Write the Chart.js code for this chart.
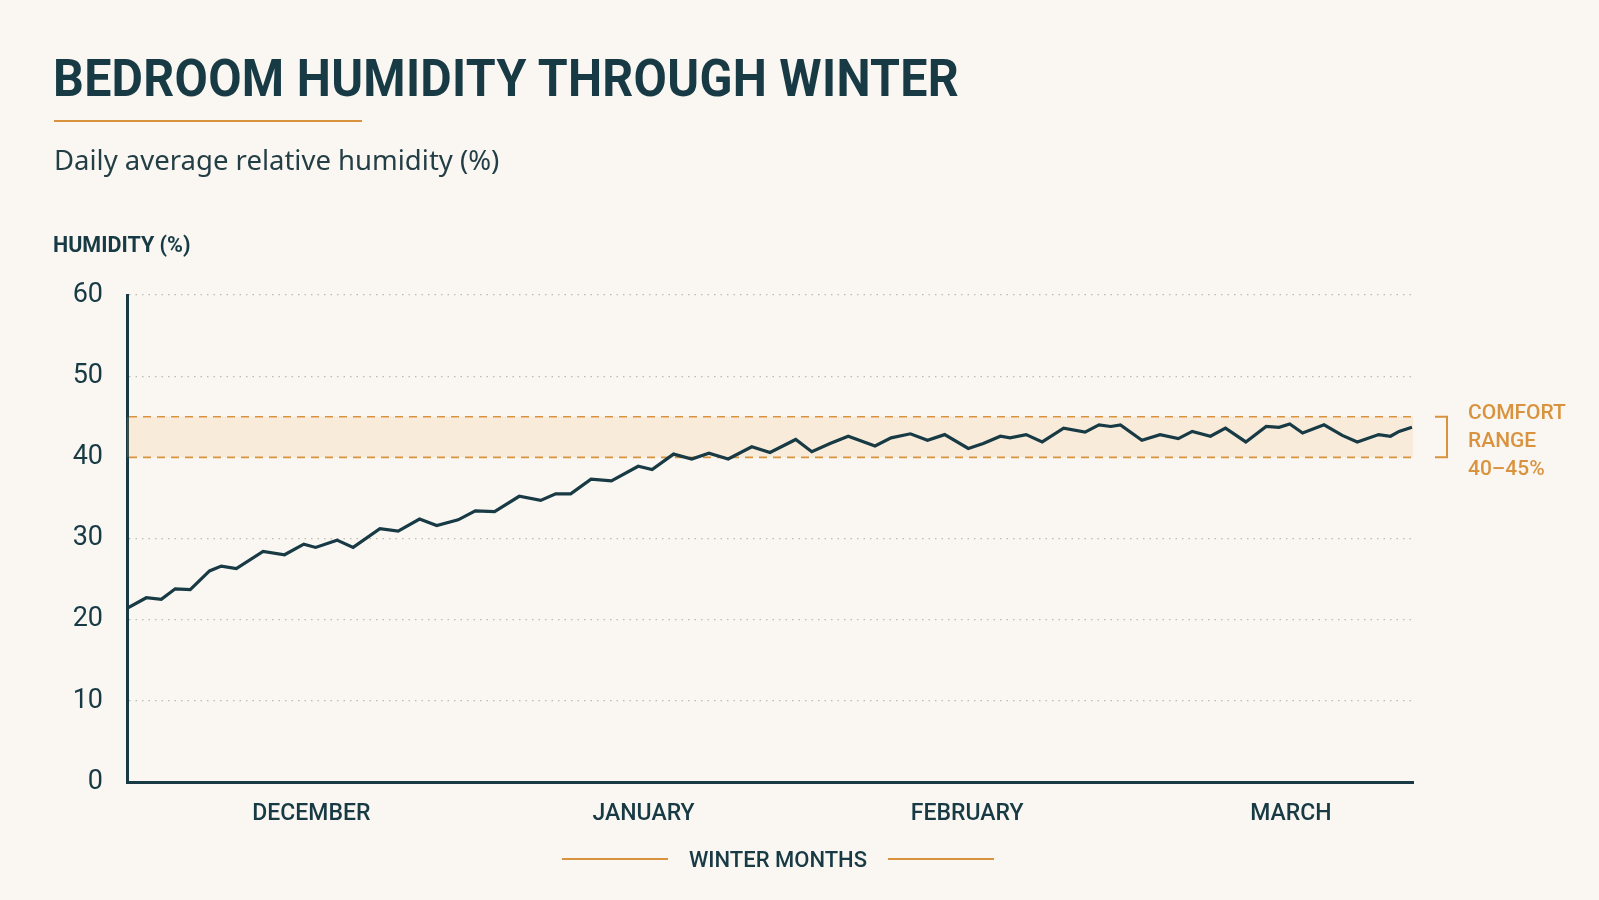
<!DOCTYPE html>
<html>
<head>
<meta charset="utf-8">
<title>Bedroom humidity through winter</title>
<script src="https://cdn.jsdelivr.net/npm/chart.js@4.4.1/dist/chart.umd.min.js"></script>
<style>
    html, body {
        margin: 0;
        padding: 0;
        width: 1599px;
        height: 900px;
        background: #faf7f2;
        overflow: hidden;
        font-family: Roboto, "Noto Sans", sans-serif;
        color: #173a44;
    }
    #title {
        position: absolute;
        left: 53px;
        top: 50px;
        font-size: 52px;
        line-height: 58px;
        font-weight: 700;
        letter-spacing: 0.3px;
        white-space: nowrap;
        transform: scaleX(0.93);
        transform-origin: left center;
    }
    #rule {
        position: absolute;
        left: 54px;
        top: 120px;
        width: 308px;
        height: 2px;
        background: #d9933f;
    }
    #subtitle {
        position: absolute;
        left: 54px;
        top: 143px;
        font-family: "Noto Sans", sans-serif;
        font-size: 27.5px;
        line-height: 34px;
        color: #243e46;
        white-space: nowrap;
    }
    #yTitle {
        position: absolute;
        left: 53px;
        top: 233px;
        font-size: 21.5px;
        line-height: 24px;
        font-weight: 700;
        white-space: nowrap;
    }
    #chartBox {
        position: absolute;
        left: 0;
        top: 0;
        width: 1599px;
        height: 900px;
    }
    #xTitle {
        position: absolute;
        left: 562px;
        width: 432px;
        top: 846px;
        height: 26px;
        display: flex;
        align-items: center;
        justify-content: space-between;
        font-size: 22px;
        font-weight: 500;
        white-space: nowrap;
    }
    #xTitle .bar {
        display: block;
        width: 106px;
        height: 2px;
        background: #d9933f;
    }
</style>
</head>
<body>
<div id="chartBox"><canvas id="humidityChart"></canvas></div>
<div id="title">BEDROOM HUMIDITY THROUGH WINTER</div>
<div id="rule"></div>
<div id="subtitle">Daily average relative humidity (%)</div>
<div id="yTitle">HUMIDITY (%)</div>
<div id="xTitle"><span class="bar"></span><span>WINTER MONTHS</span><span class="bar"></span></div>

<script>
const dayOffsets = [
    0, 1.8, 3.2, 4.5, 5.9, 7.7, 8.8, 10.2, 12.7, 14.7,
    16.5, 17.6, 19.6, 21.1, 23.6, 25.3, 27.3, 28.9, 30.9, 32.5,
    34.3, 36.6, 38.6, 40.0, 41.4, 43.3, 45.2, 47.7, 49.0, 51.0,
    52.7, 54.3, 56.1, 58.3, 60.0, 62.4, 63.9, 65.6, 67.3, 69.8,
    71.3, 73.1, 74.7, 76.3, 78.5, 79.9, 81.5, 82.4, 83.9, 85.4,
    87.4, 89.4, 90.7, 91.8, 92.7, 94.7, 96.4, 98.1, 99.4, 101.1,
    102.5, 104.4, 106.3, 107.5, 108.5, 109.7, 111.7, 113.4, 114.8, 116.8,
    117.9, 118.7, 119.9
];

// Daily average relative humidity (%)
const humidity = [
    21.4, 22.7, 22.5, 23.8, 23.7, 26.0, 26.6, 26.3, 28.4, 28.0,
    29.3, 28.9, 29.8, 28.9, 31.2, 30.9, 32.4, 31.6, 32.3, 33.4,
    33.3, 35.2, 34.7, 35.5, 35.5, 37.3, 37.1, 38.9, 38.5, 40.4,
    39.8, 40.5, 39.8, 41.3, 40.6, 42.2, 40.7, 41.7, 42.6, 41.4,
    42.4, 42.9, 42.1, 42.8, 41.1, 41.7, 42.6, 42.4, 42.8, 41.9,
    43.6, 43.1, 44.0, 43.8, 44.0, 42.1, 42.8, 42.3, 43.2, 42.6,
    43.6, 41.9, 43.8, 43.7, 44.1, 43.0, 44.0, 42.7, 41.9, 42.8,
    42.6, 43.2, 43.7
];

// Month labels and where they sit on the day axis
const monthLabels = ['DECEMBER', 'JANUARY', 'FEBRUARY', 'MARCH'];
const monthTickDays = [17.2, 48.2, 78.4, 108.6];

// Y axis ticks
const yTicks = [0, 10, 20, 30, 40, 50, 60];

// Comfort range
const comfortLow = 40;
const comfortHigh = 45;
const comfortLines = ['COMFORT', 'RANGE', '40\u201345%'];

const INK = '#173a44';
const ORANGE = '#d9933f';

// Shaded comfort band + dashed edges, drawn under the line
const comfortBandPlugin = {
    id: 'comfortBand',
    beforeDatasetsDraw(chart) {
        const { ctx, chartArea, scales: { y } } = chart;
        const top = y.getPixelForValue(comfortHigh);
        const bottom = y.getPixelForValue(comfortLow);

        ctx.save();
        ctx.fillStyle = 'rgba(236, 176, 100, 0.17)';
        ctx.fillRect(chartArea.left, top, chartArea.right - chartArea.left, bottom - top);

        ctx.strokeStyle = ORANGE;
        ctx.lineWidth = 1.6;
        ctx.setLineDash([8, 6]);
        [top, bottom].forEach(py => {
            ctx.beginPath();
            ctx.moveTo(chartArea.left + 2, py);
            ctx.lineTo(chartArea.right, py);
            ctx.stroke();
        });
        ctx.restore();
    },
    afterDraw(chart) {
        const { ctx, chartArea, scales: { y } } = chart;
        const top = y.getPixelForValue(comfortHigh);
        const bottom = y.getPixelForValue(comfortLow);
        const bx = chartArea.right + 34;

        ctx.save();
        // bracket
        ctx.strokeStyle = ORANGE;
        ctx.lineWidth = 2;
        ctx.beginPath();
        ctx.moveTo(bx - 12, top);
        ctx.lineTo(bx, top);
        ctx.lineTo(bx, bottom);
        ctx.lineTo(bx - 12, bottom);
        ctx.stroke();

        // label
        ctx.fillStyle = ORANGE;
        ctx.font = '500 21px Roboto, "Noto Sans", sans-serif';
        ctx.textAlign = 'left';
        ctx.textBaseline = 'middle';
        comfortLines.forEach((line, i) => {
            ctx.fillText(line, bx + 21, top - 3 + i * 28);
        });
        ctx.restore();
    }
};

const ctx = document.getElementById('humidityChart');

new Chart(ctx, {
    type: 'line',
    data: {
        datasets: [{
            label: 'Relative humidity (%)',
            data: dayOffsets.map((d, i) => ({ x: d, y: humidity[i] })),
            borderColor: INK,
            borderWidth: 3.2,
            pointRadius: 0,
            tension: 0,
            fill: false
        }]
    },
    options: {
        responsive: true,
        maintainAspectRatio: false,
        animation: false,
        layout: {
            padding: { top: 295, right: 186, left: 0, bottom: 0 }
        },
        plugins: {
            legend: { display: false },
            tooltip: { enabled: false }
        },
        scales: {
            x: {
                type: 'linear',
                min: 0,
                max: 120,
                afterBuildTicks: scale => {
                    scale.ticks = monthTickDays.map(v => ({ value: v }));
                },
                afterFit: scale => {
                    scale.height = 118;
                },
                ticks: {
                    autoSkip: false,
                    maxRotation: 0,
                    padding: 18,
                    color: INK,
                    font: { family: 'Roboto', size: 23, weight: '500' },
                    callback: (value, index) => monthLabels[index]
                },
                grid: { display: false, drawTicks: false },
                border: { display: true, color: INK, width: 3 }
            },
            y: {
                min: 0,
                max: 60,
                afterBuildTicks: scale => {
                    scale.ticks = yTicks.map(v => ({ value: v }));
                },
                afterFit: scale => {
                    scale.width = 127;
                },
                ticks: {
                    padding: 24,
                    color: INK,
                    font: { family: 'Roboto', size: 27 }
                },
                grid: {
                    drawTicks: false,
                    lineWidth: 1.3,
                    color: c => (c.tick && (c.tick.value === 0 || c.tick.value === comfortLow))
                        ? 'rgba(0,0,0,0)' : '#bdb8b0'
                },
                border: { display: true, color: INK, width: 3, dash: [1.5, 5] }
            }
        }
    },
    plugins: [comfortBandPlugin]
});
</script>
</body>
</html>
